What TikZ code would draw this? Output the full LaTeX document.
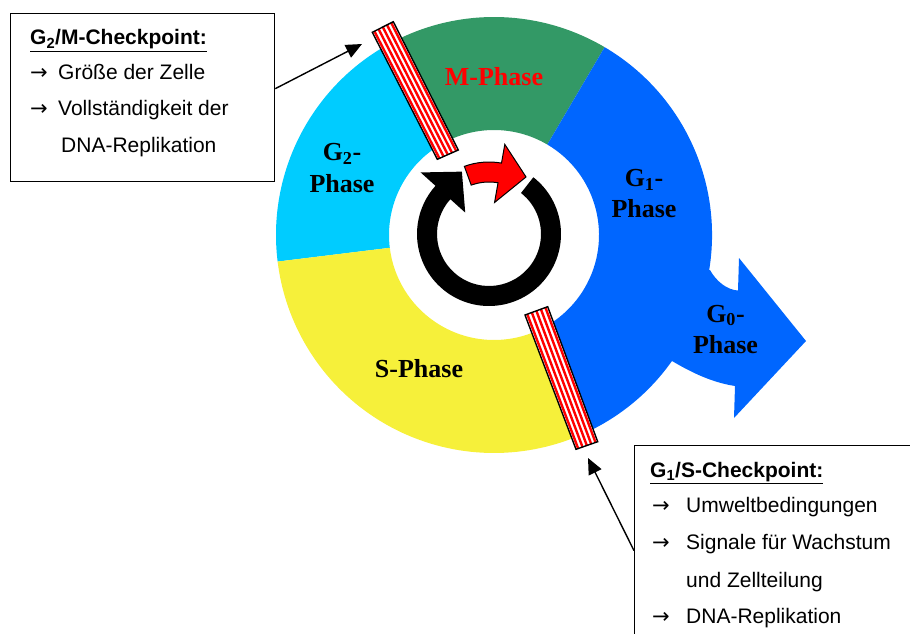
\documentclass[tikz,border=0pt]{standalone}
\usepackage{fontspec}
\setmainfont{Liberation Serif}
\newfontfamily\boxfont{Liberation Sans}
\newfontfamily\arrowfont{DejaVu Sans}
\usetikzlibrary{calc,arrows.meta}
\definecolor{mgreen}{HTML}{339966}
\definecolor{gtwocyan}{HTML}{00CCFF}
\definecolor{gonecol}{HTML}{0066FF}
\definecolor{syellow}{HTML}{F6F03A}
\newcommand{\myarr}[1]{\makebox[#1][l]{\arrowfont →}}
\begin{document}
\begin{tikzpicture}[x=1pt,y=1pt,
  phaselbl/.style={inner sep=0pt, anchor=base, font=\fontsize{26}{30}\selectfont\bfseries},
  boxtxt/.style={inner sep=0pt, anchor=base west, font=\fontsize{21}{25}\selectfont\boxfont},
  cpbox/.style={draw=black, line width=1.3pt, fill=white, inner sep=0pt},
  conn/.style={line width=1.4pt, -{Triangle[length=16pt,width=14pt]}},
  barborder/.style={draw=black, line width=1.4pt, line join=miter},
  stripe/.style={red, line width=2.4pt}
  ]
\useasboundingbox (0,0) rectangle (910,633);
\clip (0,0) rectangle (910,633);
\coordinate (C) at (494,398);
\coordinate (B) at (489,399);
% ring segments
\fill[mgreen] ($(C)+(59.5:218pt)$) arc[start angle=59.5,end angle=119,radius=218pt] -- ($(C)+(119:105pt)$) arc[start angle=119,end angle=59.5,radius=105pt] -- cycle;
\fill[gtwocyan] ($(C)+(119:218pt)$) arc[start angle=119,end angle=187,radius=218pt] -- ($(C)+(187:105pt)$) arc[start angle=187,end angle=119,radius=105pt] -- cycle;
\fill[syellow] ($(C)+(187:218pt)$) arc[start angle=187,end angle=296,radius=218pt] -- ($(C)+(296:105pt)$) arc[start angle=296,end angle=187,radius=105pt] -- cycle;
\fill[gonecol] ($(C)+(-64:218pt)$) arc[start angle=-64,end angle=59.5,radius=218pt] -- ($(C)+(59.5:105pt)$) arc[start angle=59.5,end angle=-64,radius=105pt] -- cycle;
% G0 arrow
\fill[gonecol] (710,363) .. controls (716,352) and (727,343) .. (738,342.5) -- (739,375) -- (806,292) -- (734,215) -- (735,247) .. controls (712.1,250.5) and (691.9,260.3) .. (672,272) -- (640,300) -- (660,360) -- cycle;
% labels
\node[phaselbl, text=red] (mlbl) at (494,547) {M-Phase};
\node[phaselbl] (g2a) at (342,472) {G\textsubscript{2}-};
\node[phaselbl] (g2b) at (342,440) {Phase};
\node[phaselbl] (g1a) at (644,446) {G\textsubscript{1}-};
\node[phaselbl] (g1b) at (644,415) {Phase};
\node[phaselbl] (g0a) at (725.5,311) {G\textsubscript{0}-};
\node[phaselbl] (g0b) at (725.5,280) {Phase};
\node[phaselbl] (slbl) at (419,256) {S-Phase};
% central arrows
\fill[black] ($(B)+(52:72pt)$) arc[start angle=52,end angle=-222,radius=72pt] -- ($(B)+(138:92pt)$) -- ($(B)+(113.5:68pt)$) -- ($(B)+(138:32pt)$) -- ($(B)+(138:52pt)$) arc[start angle=-222,end angle=52,radius=52pt] -- cycle;
\filldraw[fill=red, draw=black, line width=1pt, line join=miter] ($(B)+(110:72pt)$) arc[start angle=110,end angle=80,radius=72pt] -- ($(B)+(80:91pt)$) -- ($(B)+(57:68pt)$) -- ($(B)+(80:32pt)$) -- ($(B)+(80:52pt)$) arc[start angle=80,end angle=110,radius=52pt] -- cycle;
% checkpoint bars
\coordinate (u1) at (372.3,600.7);
\coordinate (u2) at (393.3,611.3);
\coordinate (u3) at (458.3,483);
\coordinate (u4) at (437.3,473.7);
\fill[white] (u1)--(u2)--(u3)--(u4)--cycle;
\foreach \t in {0.1,0.3,0.5,0.7,0.9} \draw[stripe] ($(u1)!\t!(u2)$) -- ($(u4)!\t!(u3)$);
\draw[barborder] (u1)--(u2)--(u3)--(u4)--cycle;
\coordinate (l1) at (525,318);
\coordinate (l2) at (547.7,326.3);
\coordinate (l3) at (597.7,191.3);
\coordinate (l4) at (576,183.7);
\fill[white] (l1)--(l2)--(l3)--(l4)--cycle;
\foreach \t in {0.1,0.3,0.5,0.7,0.9} \draw[stripe] ($(l1)!\t!(l2)$) -- ($(l4)!\t!(l3)$);
\draw[barborder] (l1)--(l2)--(l3)--(l4)--cycle;
% boxes
\node[cpbox, minimum width=264pt, minimum height=168pt, anchor=north west] (box1) at (10,620) {};
\node[boxtxt] (h1) at (30,588) {\textbf{\underline{G\textsubscript{2}/M-Checkpoint:}}};
\node[boxtxt] (a1) at (30,553) {\myarr{28pt}Größe der Zelle};
\node[boxtxt] (a2) at (30,517) {\myarr{28pt}Vollständigkeit der};
\node[boxtxt] (a3) at (61,480) {DNA-Replikation};
\node[cpbox, minimum width=300pt, minimum height=210pt, anchor=north west] (box2) at (634,188) {};
\node[boxtxt] (h2) at (650,156) {\textbf{\underline{G\textsubscript{1}/S-Checkpoint:}}};
\node[boxtxt] (b1) at (652,121) {\myarr{34pt}Umweltbedingungen};
\node[boxtxt] (b2) at (652,84) {\myarr{34pt}Signale für Wachstum};
\node[boxtxt] (b3) at (686,46) {und Zellteilung};
\node[boxtxt] (b4) at (652,10) {\myarr{34pt}DNA-Replikation};
% connectors
\coordinate (tip1) at (362,589);
\coordinate (tip2) at (588,175);
\draw[conn] ([yshift=9pt]box1.east) -- (tip1);
\draw[conn] (box2.west) -- (tip2);
\end{tikzpicture}
\end{document}
